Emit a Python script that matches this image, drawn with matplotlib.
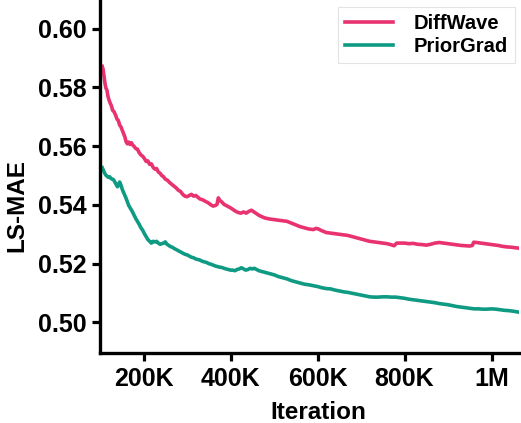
import matplotlib
matplotlib.use("Agg")
import matplotlib.pyplot as plt
import numpy as np

plt.rcParams['font.family'] = ['Liberation Sans', 'DejaVu Sans']
plt.rcParams['font.weight'] = 'bold'

# Data (iterations in thousands)
diffwave_x = [105,107,109,111,113,116,118,120,123,126,129,132,136,139,142,145,148,151,154,157,160,163,166,169,172,175,178,182,186,190,194,198,202,206,210,214,218,222,226,230,234,238,242,246,250,255,260,265,270,275,280,285,290,295,300,305,310,315,320,325,330,335,340,345,350,355,360,365,369,372,375,380,385,390,395,400,406,412,418,424,430,436,442,448,454,460,466,472,478,484,490,500,510,520,530,540,550,560,570,580,590,597,602,610,620,630,640,650,660,670,680,690,700,710,720,730,740,750,760,770,776,782,790,800,810,820,830,840,850,860,870,880,890,900,910,920,930,940,950,956,959,966,975,985,995,1005,1015,1025,1035,1045,1055,1062]
diffwave_y = [0.5872,0.5862,0.5840,0.5818,0.5800,0.5790,0.5772,0.5760,0.5748,0.5738,0.5722,0.5718,0.5705,0.5692,0.5688,0.5672,0.5666,0.5655,0.5645,0.5632,0.5615,0.5608,0.5614,0.5606,0.5612,0.5604,0.5600,0.5592,0.5590,0.5578,0.5570,0.5566,0.5558,0.5548,0.5550,0.5538,0.5540,0.5528,0.5522,0.5524,0.5512,0.5508,0.5500,0.5496,0.5488,0.5484,0.5476,0.5470,0.5464,0.5458,0.5450,0.5446,0.5436,0.5430,0.5428,0.5432,0.5436,0.5430,0.5432,0.5426,0.5420,0.5418,0.5414,0.5410,0.5406,0.5400,0.5396,0.5398,0.5402,0.5424,0.5416,0.5410,0.5402,0.5398,0.5394,0.5390,0.5384,0.5378,0.5374,0.5372,0.5376,0.5372,0.5378,0.5382,0.5376,0.5370,0.5364,0.5360,0.5356,0.5354,0.5352,0.5350,0.5348,0.5346,0.5344,0.5338,0.5332,0.5326,0.5322,0.5318,0.5316,0.5320,0.5318,0.5312,0.5306,0.5304,0.5302,0.5300,0.5298,0.5296,0.5292,0.5288,0.5284,0.5280,0.5276,0.5274,0.5272,0.5270,0.5268,0.5264,0.5261,0.5270,0.5270,0.5270,0.5268,0.5269,0.5266,0.5265,0.5263,0.5266,0.5270,0.5272,0.5270,0.5268,0.5266,0.5264,0.5262,0.5261,0.5260,0.5262,0.5273,0.5272,0.5270,0.5268,0.5266,0.5264,0.5262,0.5259,0.5257,0.5256,0.5254,0.5253]

priorgrad_x = [105,107,110,113,116,119,122,125,128,131,134,137,140,142,145,147,150,153,156,159,162,166,170,174,178,182,186,190,194,198,202,206,210,214,218,222,226,230,234,238,242,246,250,254,258,262,266,270,275,280,285,290,295,300,305,310,315,320,325,330,335,340,345,350,355,360,365,370,375,380,385,390,395,400,405,410,415,420,425,430,435,440,445,450,455,460,465,470,475,480,490,500,510,520,530,540,550,560,570,580,590,600,610,620,630,640,650,660,670,680,690,700,710,720,730,740,750,760,770,780,790,800,810,820,830,840,850,860,870,880,890,900,910,920,930,940,950,960,970,980,990,1000,1010,1020,1030,1040,1050,1062]
priorgrad_y = [0.5527,0.5520,0.5510,0.5502,0.5498,0.5494,0.5496,0.5490,0.5488,0.5486,0.5478,0.5470,0.5462,0.5468,0.5478,0.5472,0.5458,0.5446,0.5436,0.5426,0.5414,0.5398,0.5388,0.5378,0.5366,0.5354,0.5344,0.5334,0.5322,0.5314,0.5302,0.5292,0.5282,0.5276,0.5270,0.5276,0.5274,0.5276,0.5270,0.5266,0.5268,0.5270,0.5274,0.5266,0.5262,0.5258,0.5256,0.5252,0.5248,0.5244,0.5240,0.5236,0.5232,0.5230,0.5226,0.5222,0.5220,0.5216,0.5214,0.5212,0.5208,0.5206,0.5204,0.5200,0.5198,0.5195,0.5192,0.5190,0.5188,0.5187,0.5184,0.5182,0.5180,0.5178,0.5178,0.5176,0.5180,0.5182,0.5186,0.5182,0.5178,0.5180,0.5184,0.5182,0.5184,0.5180,0.5176,0.5174,0.5172,0.5170,0.5166,0.5162,0.5156,0.5152,0.5148,0.5142,0.5138,0.5134,0.5130,0.5128,0.5125,0.5122,0.5118,0.5115,0.5114,0.5110,0.5107,0.5104,0.5102,0.5099,0.5096,0.5093,0.5090,0.5087,0.5086,0.5086,0.5087,0.5087,0.5086,0.5086,0.5084,0.5082,0.5079,0.5077,0.5075,0.5073,0.5071,0.5069,0.5067,0.5064,0.5062,0.5060,0.5057,0.5054,0.5052,0.5050,0.5048,0.5046,0.5046,0.5045,0.5045,0.5046,0.5045,0.5043,0.5041,0.5040,0.5038,0.5035]

series_labels = ["DiffWave", "PriorGrad"]
xtick_values = [200, 400, 600, 800, 1000]
xtick_labels = ["200K", "400K", "600K", "800K", "1M"]
ytick_values = [0.50, 0.52, 0.54, 0.56, 0.58, 0.60]

pink = "#E8336F"
teal = "#0F9A84"

fig = plt.figure(figsize=(5.21, 4.23), dpi=100)
ax = fig.add_axes([0.192, 0.165, 0.804, 0.833])

ax.plot(diffwave_x, diffwave_y, color=pink, lw=2.6, label=series_labels[0])
ax.plot(priorgrad_x, priorgrad_y, color=teal, lw=2.6, label=series_labels[1])

ax.set_xlim(100, 1063)
ax.set_ylim(0.4895, 0.6095)
ax.set_xticks(xtick_values)
ax.set_xticklabels(xtick_labels)
ax.set_yticks(ytick_values)
ax.set_yticklabels([f"{v:.2f}" for v in ytick_values])

for s in ['top', 'right']:
    ax.spines[s].set_visible(False)
for s in ['left', 'bottom']:
    ax.spines[s].set_linewidth(2.4)
ax.tick_params(axis='both', which='major', direction='out', length=6, width=2.3,
               labelsize=18, pad=4)
for lab in ax.get_xticklabels() + ax.get_yticklabels():
    lab.set_fontweight('bold')

ax.set_xlabel("Iteration", fontsize=17.5, fontweight='bold')
ax.set_ylabel("LS-MAE", fontsize=17.5, fontweight='bold')
ax.xaxis.set_label_coords(0.52, -0.135)
ax.yaxis.set_label_coords(-0.17, 0.42)

leg = ax.legend(loc='upper right', bbox_to_anchor=(1.0, 0.995), fontsize=14.5,
                frameon=True, fancybox=False, edgecolor='#dddddd',
                handlelength=2.4, handletextpad=1.0, borderaxespad=0.2,
                labelspacing=0.2, borderpad=0.35)
leg.get_frame().set_linewidth(0.8)
for t in leg.get_texts():
    t.set_fontweight('bold')

fig.savefig("out.png", dpi=100)
